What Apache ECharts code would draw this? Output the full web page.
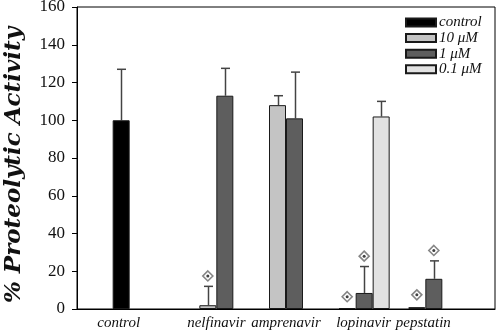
<!DOCTYPE html>
<html lang="en">
<head>
    <meta charset="UTF-8">
    <title>% Proteolytic Activity</title>
    <script src="https://cdn.jsdelivr.net/npm/echarts@6/dist/echarts.min.js"></script>
</head>
<body style="margin: 0; background-color: #fff">
<div id="container" style="width: 498px; height: 336px"></div>
<script type="text/javascript">
    // data
    let categories = ['control', 'nelfinavir', 'amprenavir', 'lopinavir', 'pepstatin'];
    let seriesNames = ['control', '10 μM', '1 μM', '0.1 μM'];
    let controlVals = [100, null, null, null, null];
    let uM10Vals = [null, 2, 108, 0.5, 1];
    let uM1Vals = [null, 113, 101, 8.5, 16];
    let uM01Vals = [null, null, null, 102, null];
    // upper error (+SD)
    let controlErr = [27, null, null, null, null];
    let uM10Err = [null, 10, 5, null, null];
    let uM1Err = [null, 14.5, 24.5, 14, 9.5];
    let uM01Err = [null, null, null, 8, null];
    // significance markers (diamond)
    let uM10Sig = [null, 17.5, null, 6.5, 7.5];
    let uM1Sig = [null, null, null, 28, 31];
    let yTicks = [0, 20, 40, 60, 80, 100, 120, 140, 160];

    let colors = ['#000000', '#c4c4c4', '#5e5e5e', '#e2e2e2'];
    let barW = 17;
    let serif = '"Liberation Serif", "DejaVu Serif", serif';

    // padded category list: empty slot on each side
    let axisCats = [''].concat(categories).concat(['']);
    function pad(arr) {
        return [null].concat(arr).concat([null]);
    }
    // nudge some labels like in the original figure (px, + = right)
    let labelShift = {control: -28, nelfinavir: 0, amprenavir: 0, lopinavir: 8, pepstatin: -2};
    let labelFont = {fontFamily: serif, fontStyle: 'italic', fontSize: 15, color: '#111'};
    let labelRich = {};
    categories.forEach(function (c, i) {
        let sh = labelShift[c];
        labelRich['c' + i] = Object.assign({
            padding: [0, sh < 0 ? -2 * sh : 0, 0, sh > 0 ? 2 * sh : 0]
        }, labelFont);
    });

    let allVals = [controlVals, uM10Vals, uM1Vals, uM01Vals];
    let allErr = [controlErr, uM10Err, uM1Err, uM01Err];

    let series = [];
    for (let s = 0; s < 4; s++) {
        series.push({
            name: seriesNames[s],
            type: 'bar',
            data: pad(allVals[s]),
            barWidth: barW,
            barGap: '0%',
            itemStyle: {color: colors[s], borderColor: '#1a1a1a', borderWidth: 1}
        });
    }

    // error bars drawn with a custom series
    let errData = [];
    for (let s = 0; s < 4; s++) {
        for (let i = 0; i < categories.length; i++) {
            if (allErr[s][i] != null) {
                errData.push([i + 1, allVals[s][i], allVals[s][i] + allErr[s][i], s]);
            }
        }
    }
    series.push({
        type: 'custom',
        silent: true,
        z: 1,
        data: errData,
        renderItem: function (params, api) {
            let off = (api.value(3) - 1.5) * barW;
            let p0 = api.coord([api.value(0), api.value(1)]);
            let p1 = api.coord([api.value(0), api.value(2)]);
            let x = Math.round(p0[0] + off) + 0.5;
            let style = {stroke: '#444', lineWidth: 1.5};
            return {
                type: 'group',
                children: [
                    {type: 'line', shape: {x1: x, y1: p0[1], x2: x, y2: p1[1]}, style: style},
                    {type: 'line', shape: {x1: x - 4.5, y1: p1[1], x2: x + 4.5, y2: p1[1]}, style: style}
                ]
            };
        }
    });

    // diamonds with a dot inside
    let sigSets = [[uM10Sig, -0.5], [uM1Sig, 0.5]];
    sigSets.forEach(function (set) {
        series.push({
            type: 'scatter',
            data: pad(set[0]),
            symbol: 'diamond',
            symbolSize: 10,
            symbolOffset: [set[1] * barW, 0],
            itemStyle: {color: '#fff', borderColor: '#666', borderWidth: 1.6},
            z: 3
        });
        series.push({
            type: 'scatter',
            data: pad(set[0]),
            symbol: 'circle',
            symbolSize: 3,
            symbolOffset: [set[1] * barW, 0],
            itemStyle: {color: '#111'},
            z: 4
        });
    });

    let myChart = echarts.init(document.getElementById('container'));
    let option = {
        animation: false,
        grid: {
            left: 77, right: 3, top: 7, bottom: 27,
            show: true, borderColor: '#000', borderWidth: 1,
            outerBoundsMode: 'none'
        },
        legend: {
            data: seriesNames,
            orient: 'vertical',
            left: 405,
            top: 15,
            padding: 0,
            icon: 'rect',
            itemWidth: 30,
            itemHeight: 8,
            itemGap: 0.6,
            textStyle: {fontFamily: serif, fontStyle: 'italic', fontSize: 15, lineHeight: 15, color: '#111', padding: [0, 0, 0, -2]}
        },
        xAxis: {
            type: 'category',
            data: axisCats,
            boundaryGap: false,
            axisLine: {lineStyle: {color: '#000', width: 1}},
            axisTick: {show: false},
            axisLabel: {
                margin: 7,
                interval: 0,
                fontFamily: serif,
                fontStyle: 'italic',
                fontSize: 15,
                color: '#111',
                formatter: function (v) {
                    let i = categories.indexOf(v);
                    if (i < 0) return '';
                    return '{c' + i + '|' + v + '}';
                },
                rich: labelRich
            }
        },
        yAxis: {
            type: 'value',
            min: yTicks[0],
            max: yTicks[yTicks.length - 1],
            interval: 20,
            name: '% Proteolytic Activity',
            nameLocation: 'middle',
            nameGap: 51,
            nameTextStyle: {
                fontFamily: '"DejaVu Serif", serif', fontStyle: 'italic', fontWeight: 'bold',
                fontSize: 23, color: '#111', padding: [0, 14, 0, 0]
            },
            axisLine: {show: true, lineStyle: {color: '#000', width: 1}},
            axisTick: {show: true, length: 5, lineStyle: {color: '#000'}},
            splitLine: {show: false},
            axisLabel: {margin: 12, fontFamily: serif, fontSize: 17, color: '#111'}
        },
        series: series
    };
    myChart.setOption(option);
</script>
</body>
</html>
